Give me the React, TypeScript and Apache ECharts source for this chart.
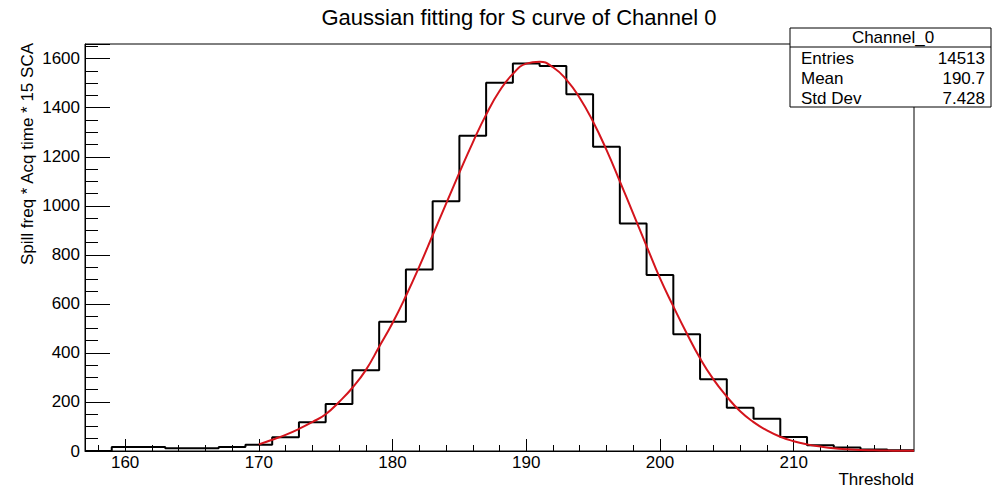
import React, { useEffect, useRef } from "react";
import * as echarts from "echarts";

// Histogram: bin centres (bin width 2) and counts
const binCenters = [158, 160, 162, 164, 166, 168, 170, 172, 174, 176, 178, 180, 182, 184, 186, 188, 190, 192, 194, 196, 198, 200, 202, 204, 206, 208, 210, 212, 214, 216, 218];
const binCounts = [0, 16, 16, 11, 11, 16, 25, 56, 117, 192, 329, 527, 740, 1019, 1286, 1502, 1580, 1570, 1455, 1241, 928, 718, 476, 293, 176, 132, 57, 23, 14, 6, 3];
const binWidth = 2;

// Gaussian fit curve
const fitX = [170, 171, 172, 173, 174, 175, 176, 177, 178, 179, 180, 181, 182, 183, 184, 185, 186, 187, 188, 189, 190, 191, 192, 193, 194, 195, 196, 197, 198, 199, 200, 201, 202, 203, 204, 205, 206, 207, 208, 209, 210, 211, 212, 213, 214, 215, 216, 217, 218, 219];
const fitY = [27, 46, 66, 90, 118, 150, 200, 258, 330, 425, 522, 632, 752, 880, 1008, 1135, 1258, 1372, 1468, 1538, 1580, 1588, 1565, 1515, 1440, 1343, 1228, 1100, 968, 836, 705, 590, 480, 378, 292, 222, 162, 118, 84, 58, 40, 27, 18, 11, 7, 4, 3, 2, 1, 1];

const xMajorTicks = [160, 170, 180, 190, 200, 210];
const xMinorTicks = [158, 162, 164, 166, 168, 172, 174, 176, 178, 182, 184, 186, 188, 192, 194, 196, 198, 202, 204, 206, 208, 212, 214, 216, 218];

const titleText = "Gaussian fitting for S curve of Channel 0";
const yAxisTitle = "Spill freq * Acq time * 15 SCA";
const xAxisTitle = "Threshold";
const statsName = "Channel_0";
const statsLabels = ["Entries", "Mean", "Std Dev"];
const statsValues = ["14513", "190.7", "7.428"];

const FONT = "'Liberation Sans', Arial, Helvetica, sans-serif";

export default function App() {
  const ref = useRef<HTMLDivElement>(null);
  useEffect(() => {
    if (!ref.current) return;
    const chart = echarts.init(ref.current, undefined, { renderer: "svg" });

    const stepData: number[][] = binCenters.map((c, i) => [c - binWidth / 2, binCounts[i]]);
    const last = binCenters.length - 1;
    stepData.push([binCenters[last] + binWidth / 2, binCounts[last]]);
    const fitData = fitX.map((x, i) => [x, fitY[i]]);

    const statsRows: any[] = [];
    statsLabels.forEach((lab, i) => {
      statsRows.push({
        type: "text", x: 801, y: 58 + i * 20,
        style: { text: lab, font: `17px ${FONT}`, fill: "#000", align: "left", verticalAlign: "middle" },
      });
      statsRows.push({
        type: "text", x: 985, y: 58 + i * 20,
        style: { text: statsValues[i], font: `17px ${FONT}`, fill: "#000", align: "right", verticalAlign: "middle" },
      });
    });

    chart.setOption({
      animation: false,
      backgroundColor: "#fff",
      grid: {
        left: 85, right: 78, top: 44, bottom: 39,
        show: true, borderColor: "#000", borderWidth: 1, backgroundColor: "transparent",
      },
      xAxis: [
        {
          type: "value", min: 157, max: 219,
          axisLine: { show: true, lineStyle: { color: "#000", width: 1 } },
          axisTick: { show: true, inside: true, length: 12, customValues: xMajorTicks, lineStyle: { color: "#000" } },
          axisLabel: { customValues: xMajorTicks, fontSize: 17, color: "#000", fontFamily: FONT, margin: 3 },
          splitLine: { show: false },
        },
        {
          type: "value", min: 157, max: 219, position: "bottom", show: true,
          axisLine: { show: false },
          axisTick: { show: true, inside: true, length: 6, customValues: xMinorTicks, lineStyle: { color: "#000", width: 1 } },
          axisLabel: { show: false },
          splitLine: { show: false },
        },
      ],
      yAxis: {
        type: "value", min: 0, max: 1660, interval: 200,
        axisLine: { show: true, lineStyle: { color: "#000", width: 1 } },
        axisTick: { show: true, inside: true, length: 25, lineStyle: { color: "#000", width: 1 } },
        minorTick: { show: true, splitNumber: 4, length: 13, lineStyle: { color: "#000", width: 1 } },
        axisLabel: {
          fontSize: 17, color: "#000", fontFamily: FONT, margin: 5, showMaxLabel: false,
          formatter: (v: number) => String(v),
        },
        splitLine: { show: false },
      },
      series: [
        {
          type: "line", xAxisIndex: 0, data: stepData, step: "end", symbol: "none",
          lineStyle: { color: "#000", width: 2 }, z: 2,
        },
        {
          type: "line", xAxisIndex: 0, data: fitData, smooth: true, symbol: "none",
          lineStyle: { color: "#d4141c", width: 2 }, z: 3,
        },
      ],
      graphic: [
        {
          type: "text", x: 519, y: 17,
          style: { text: titleText, font: `22px ${FONT}`, fill: "#000", align: "center", verticalAlign: "middle" },
        },
        {
          type: "text", x: 27, y: 43, rotation: Math.PI / 2,
          style: { text: yAxisTitle, font: `17px ${FONT}`, fill: "#000", align: "right", verticalAlign: "middle" },
        },
        {
          type: "text", x: 914, y: 479,
          style: { text: xAxisTitle, font: `17px ${FONT}`, fill: "#000", align: "right", verticalAlign: "middle" },
        },
        {
          type: "rect", shape: { x: 790, y: 28, width: 201, height: 79 },
          style: { fill: "#fff", stroke: "#000", lineWidth: 1 }, z: 10,
        },
        {
          type: "line", shape: { x1: 790, y1: 47, x2: 991, y2: 47 },
          style: { stroke: "#000", lineWidth: 1 }, z: 11,
        },
        {
          type: "text", x: 893, y: 37, z: 11,
          style: { text: statsName, font: `17px ${FONT}`, fill: "#000", align: "center", verticalAlign: "middle" },
        },
        ...statsRows.map((r) => ({ ...r, z: 11 })),
      ],
    });
    return () => chart.dispose();
  }, []);
  return <div ref={ref} style={{ position: "fixed", left: 0, top: 0, width: 992, height: 490, background: "#fff" }} />;
}
